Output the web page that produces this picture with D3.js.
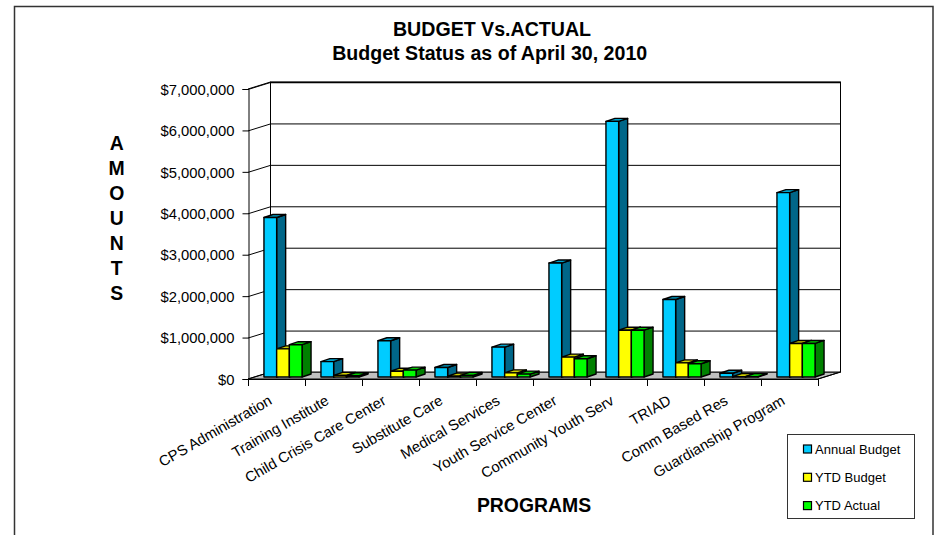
<!DOCTYPE html>
<html><head><meta charset="utf-8">
<script src="https://cdn.jsdelivr.net/npm/d3@7/dist/d3.min.js"></script>
<style>html,body{margin:0;padding:0;background:#fff}svg{display:block}text{font-family:"Liberation Sans",Arial,sans-serif;fill:#000}</style>
</head><body><svg id="c" width="936" height="535"></svg>
<script>
const categories=["CPS Administration","Training Institute","Child Crisis Care Center","Substitute Care","Medical Services","Youth Service Center","Community Youth Serv","TRIAD","Comm Based Res","Guardianship Program"];
const annualBudget=[3850000,370000,875000,230000,720000,2750000,6170000,1870000,90000,4450000];
const ytdBudget=[680000,40000,140000,20000,100000,480000,1130000,340000,10000,810000];
const ytdActual=[780000,30000,165000,40000,70000,440000,1130000,320000,10000,810000];
const seriesNames=["Annual Budget","YTD Budget","YTD Actual"];
const tickValues=[0,1000000,2000000,3000000,4000000,5000000,6000000,7000000];
const titleLines=["BUDGET Vs.ACTUAL","Budget Status as of April 30, 2010"];
const yTitle="AMOUNTS".split("");
const xTitle="PROGRAMS";

const fronts=["#00ccff","#ffff00","#00ff00"],sides=["#006688","#808000","#008000"],tops=["#00a3cc","#cccc00","#00cc00"];
const svg=d3.select("#c");
const L=248,R=818,T=89,B=379,DX=22.5,DY=7,BDX=9,BDY=3;
const x=d3.scaleBand().domain(categories).range([L,R]).paddingInner(0).paddingOuter(0);
const y=d3.scaleLinear().domain([0,7000000]).range([B,T]);
const bw=12.7,bx=6.5,by=2;

// outer frame
svg.append("path").attr("d","M14.5,535V6.5H933V535").attr("fill","none").attr("stroke","#333").attr("stroke-width",1.5);

// floor + walls
svg.append("path").attr("d",`M${L},${B}L${L+DX},${B-DY}H${R+DX}L${R},${B}Z`).attr("fill","#c0c0c0").attr("stroke","#000");
svg.append("rect").attr("x",L+DX).attr("y",T-DY).attr("width",R-L).attr("height",B-T).attr("fill","#fff").attr("stroke","#000");
svg.append("path").attr("d",`M${L},${T}L${L+DX},${T-DY}`).attr("stroke","#000");
svg.append("path").attr("d",`M${R},${B}L${R+DX},${B-DY}`).attr("stroke","#000");
svg.append("line").attr("x1",L+DX).attr("x2",R+DX).attr("y1",T-DY+.5).attr("y2",T-DY+.5).attr("stroke","#000").attr("stroke-width",1.5);

// grid lines on the side and back walls
const g=svg.append("g");
tickValues.forEach(v=>{
  if(v>0)g.append("path").attr("d",`M${L},${y(v)+.5}L${L+DX},${y(v)-DY+.5}H${R+DX}`).attr("fill","none").attr("stroke","#000");
});
svg.append("path").attr("d",`M${L},${B}L${L+DX},${B-DY}`).attr("stroke","#000");

// axes
const ya=svg.append("g").attr("transform",`translate(${L+.5},0)`).call(d3.axisLeft(y).tickValues(tickValues).tickSize(6).tickPadding(8).tickFormat(d3.format("$,.0f")));
ya.selectAll("path,line").attr("stroke","#000");
ya.selectAll("text").attr("font-size",14.8).attr("font-family",'"Liberation Sans",Arial,sans-serif').attr("dy","0.35em");
const edges=categories.map((c,i)=>x(c)).concat([R]);
svg.append("line").attr("x1",L).attr("x2",R).attr("y1",B+.5).attr("y2",B+.5).attr("stroke","#000");
svg.selectAll(".xt").data(edges).join("line").attr("x1",d=>d+.5).attr("x2",d=>d+.5).attr("y1",B).attr("y2",B+7).attr("stroke","#000");

// bars
const series=[annualBudget,ytdBudget,ytdActual];
categories.forEach((c,i)=>{
  const x0=x(c)+(x.bandwidth()-3*bw)/2+bx;
  series.forEach((s,k)=>{
    const a=x0+k*bw,b=a+bw,base=y(0)-by,top=y(s[i])-by;
    const gr=svg.append("g").attr("stroke","#000").attr("stroke-width",1.4).attr("stroke-linejoin","round");
    gr.append("path").attr("d",`M${b},${base}L${b+BDX},${base-BDY}V${top-BDY}L${b},${top}Z`).attr("fill",sides[k]);
    gr.append("path").attr("d",`M${a},${top}L${a+BDX},${top-BDY}H${b+BDX}L${b},${top}Z`).attr("fill",tops[k]);
    gr.append("rect").attr("x",a).attr("y",top).attr("width",bw).attr("height",base-top).attr("fill",fronts[k]);
  });
});

// category labels
categories.forEach(c=>{
  const cx=x(c)+x.bandwidth()/2;
  svg.append("text").attr("transform",`translate(${cx-3.5},${B+24.5}) rotate(-30)`).attr("text-anchor","end").attr("font-size",14.8).text(c);
});

// titles
titleLines.forEach((t,i)=>svg.append("text").attr("x",i?489.7:492).attr("y",35.5+i*24.5).attr("text-anchor","middle").attr("font-size",19.6).attr("font-weight","bold").text(t));
yTitle.forEach((t,i)=>svg.append("text").attr("x",116.7).attr("y",150+i*25).attr("text-anchor","middle").attr("font-size",19.4).attr("font-weight","bold").text(t));
svg.append("text").attr("x",534).attr("y",512).attr("text-anchor","middle").attr("font-size",19.4).attr("font-weight","bold").text(xTitle);

// legend
svg.append("rect").attr("x",787.5).attr("y",434.5).attr("width",127).attr("height",84).attr("fill","#fff").attr("stroke","#333");
seriesNames.forEach((n,i)=>{
  const ly=449+i*28.3;
  svg.append("rect").attr("x",803.5).attr("y",ly-4).attr("width",8).attr("height",8).attr("fill",fronts[i]).attr("stroke","#000").attr("stroke-width",1.2);
  svg.append("text").attr("x",815).attr("y",ly+4.5).attr("font-size",13).text(n);
});
</script></body></html>
